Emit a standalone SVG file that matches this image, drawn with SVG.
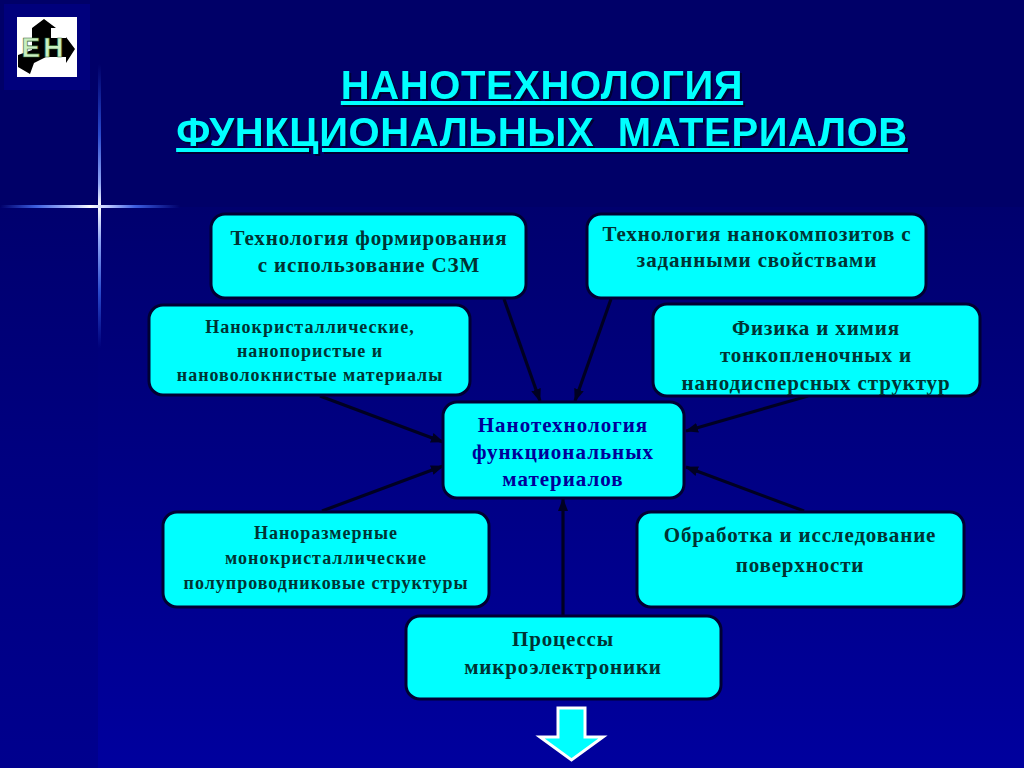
<svg xmlns="http://www.w3.org/2000/svg" width="1024" height="768" viewBox="0 0 1024 768">
<style>
.box{fill:#00FFFF;stroke:#000033;stroke-width:3}
.t{font-family:"Liberation Serif","Times New Roman",serif;font-weight:bold;text-anchor:middle;fill:#003333}
.s21{font-size:21px;letter-spacing:.85px}
.s18{font-size:18px;letter-spacing:1px}
.ctr{font-size:21px;letter-spacing:1px;fill:#000099}
.c{stroke:#000022;stroke-width:3.2;fill:none;marker-end:url(#ah)}
.title{font-family:"Liberation Sans",Arial,sans-serif;font-weight:bold;font-size:40px;letter-spacing:.6px;text-anchor:middle;fill:#00FFFF;text-decoration:underline;filter:drop-shadow(2px 2px 0 #000033)}
</style>
<defs>
<marker id="ah" markerUnits="userSpaceOnUse" markerWidth="14" markerHeight="12" refX="12" refY="6" orient="auto"><path d="M0 1L13 6L0 11Z" fill="#000022"/></marker>
<linearGradient id="lower" x1="0" y1="0" x2="0" y2="1"><stop offset="0" stop-color="#00006E"/><stop offset=".5" stop-color="#000085"/><stop offset="1" stop-color="#00009E"/></linearGradient>
<linearGradient id="strip" x1="0" y1="0" x2="0" y2="1"><stop offset="0" stop-color="#00006E"/><stop offset=".45" stop-color="#000080"/><stop offset="1" stop-color="#00008E"/></linearGradient>
<linearGradient id="h" x1="0" y1="0" x2="1" y2="0"><stop offset="0" stop-color="#3355DD" stop-opacity="0"/><stop offset=".2" stop-color="#3D5EE0"/><stop offset=".42" stop-color="#BBC8FF"/><stop offset=".5" stop-color="#FFFFFF"/><stop offset=".6" stop-color="#BBC8FF"/><stop offset=".75" stop-color="#3D5EE0"/><stop offset="1" stop-color="#3355DD" stop-opacity="0"/></linearGradient>
<linearGradient id="v" x1="0" y1="0" x2="0" y2="1"><stop offset="0" stop-color="#2244CC" stop-opacity="0"/><stop offset=".25" stop-color="#2A4ACC"/><stop offset=".42" stop-color="#8FA5F5"/><stop offset=".5" stop-color="#FFFFFF"/><stop offset=".62" stop-color="#8FA5F5"/><stop offset=".8" stop-color="#2A4ACC"/><stop offset="1" stop-color="#2244CC" stop-opacity="0"/></linearGradient>
</defs>

<rect width="1024" height="768" fill="#000068"/>
<rect x="98" y="207" width="926" height="561" fill="url(#lower)"/>
<rect x="0" y="207" width="98" height="561" fill="url(#strip)"/>
<rect x="4" y="4" width="86" height="86" fill="#00007C"/>
<rect x="98" y="64" width="3" height="284" fill="url(#v)"/>
<rect x="0" y="205" width="180" height="3" fill="url(#h)"/>

<g id="logo">
<rect x="17" y="17" width="60" height="60" fill="#FFFFFF"/>
<path d="M44 19L56 28H51V38H66V37L75 49L66 63V57H46L34 63L30 74L18 67V55L32 50V28Z" fill="#000000"/>
<text x="44" y="57" font-family="'Liberation Sans',Arial,sans-serif" font-weight="bold" font-size="28" text-anchor="middle" fill="#C8EFC0" stroke="#336633" stroke-width=".6" letter-spacing="3">ЕН</text>
</g>

<g id="title">
<text class="title" x="542" y="99">НАНОТЕХНОЛОГИЯ</text>
<text class="title" x="542" y="146" xml:space="preserve">ФУНКЦИОНАЛЬНЫХ  МАТЕРИАЛОВ</text>
</g>

<g id="connectors">
<line class="c" x1="504" y1="299" x2="540" y2="401"/>
<line class="c" x1="611" y1="299" x2="575" y2="401"/>
<line class="c" x1="320" y1="396" x2="443" y2="442"/>
<line class="c" x1="808" y1="396" x2="686" y2="431"/>
<line class="c" x1="322" y1="511" x2="443" y2="466"/>
<line class="c" x1="804" y1="511" x2="686" y2="467"/>
<line class="c" x1="563" y1="616" x2="563" y2="499"/>
</g>

<g id="node-szm">
<rect class="box" x="211" y="214" width="315" height="84" rx="14"/>
<text class="t s21" x="369" y="245">Технология формирования</text>
<text class="t s21" x="369" y="272">с использование СЗМ</text>
</g>
<g id="node-composites">
<rect class="box" x="587" y="214" width="339" height="84" rx="14"/>
<text class="t s21" x="757" y="241">Технология нанокомпозитов с</text>
<text class="t s21" x="757" y="267">заданными свойствами</text>
</g>
<g id="node-nanocrystal">
<rect class="box" x="149" y="305" width="321" height="90" rx="14"/>
<text class="t s18" x="310" y="333">Нанокристаллические,</text>
<text class="t s18" x="310" y="357">нанопористые и</text>
<text class="t s18" x="310" y="381">нановолокнистые материалы</text>
</g>
<g id="node-physics">
<rect class="box" x="653" y="304" width="327" height="92" rx="14"/>
<text class="t s21" x="816" y="335">Физика и химия</text>
<text class="t s21" x="816" y="362">тонкопленочных и</text>
<text class="t s21" x="816" y="390">нанодисперсных структур</text>
</g>
<g id="node-center">
<rect class="box" x="443" y="402" width="241" height="96" rx="14"/>
<text class="t ctr" x="563" y="432">Нанотехнология</text>
<text class="t ctr" x="563" y="459">функциональных</text>
<text class="t ctr" x="563" y="486">материалов</text>
</g>
<g id="node-semiconductor">
<rect class="box" x="163" y="512" width="326" height="95" rx="14"/>
<text class="t s18" x="326" y="539">Наноразмерные</text>
<text class="t s18" x="326" y="564">монокристаллические</text>
<text class="t s18" x="326" y="589">полупроводниковые структуры</text>
</g>
<g id="node-surface">
<rect class="box" x="637" y="512" width="327" height="95" rx="14"/>
<text class="t s21" x="800" y="542">Обработка и исследование</text>
<text class="t s21" x="800" y="572">поверхности</text>
</g>
<g id="node-micro">
<rect class="box" x="406" y="616" width="315" height="83" rx="14"/>
<text class="t s21" x="563" y="646">Процессы</text>
<text class="t s21" x="563" y="674">микроэлектроники</text>
</g>
<g id="down-arrow">
<path d="M558 708H585V737H603L571.500 760L540 737H558Z" fill="#00FFFF" stroke="#FFFFFF" stroke-width="3"/>
</g>
</svg>
